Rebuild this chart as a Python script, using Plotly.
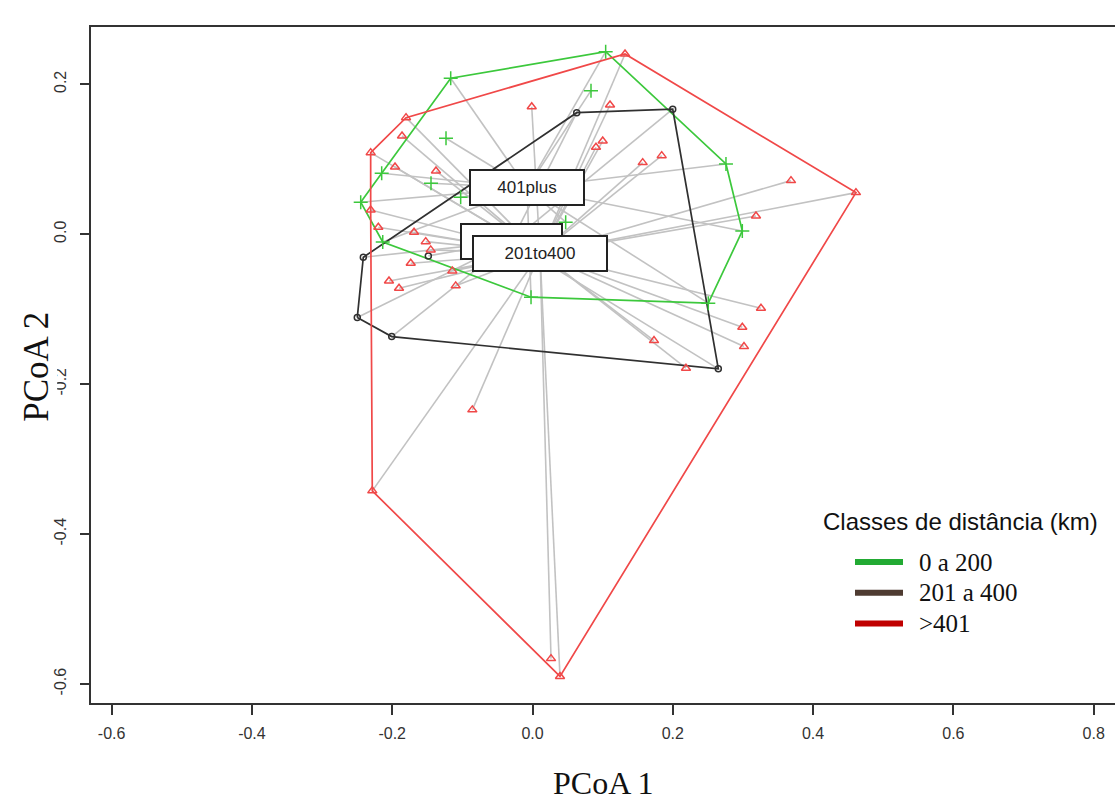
import plotly.graph_objects as go

# ---- data (PCoA scores) ----
green_x = [0.1043, -0.1166, -0.2150, -0.2449, -0.2135, -0.0021, 0.2506, 0.2991, 0.2758, 0.0834, -0.1233, -0.1447, -0.1024, 0.0473]
green_y = [0.2435, 0.2080, 0.0813, 0.0427, -0.0103, -0.0840, -0.0920, 0.0044, 0.0937, 0.1915, 0.1280, 0.0680, 0.0493, 0.0160]

black_x = [0.0630, 0.1999, 0.2649, -0.2007, -0.2498, -0.2412, -0.1485]
black_y = [0.1621, 0.1667, -0.1796, -0.1365, -0.1112, -0.0307, -0.0289]

red_x = [0.1319, 0.4611, 0.0392, -0.2284, -0.2307, -0.1803, -0.0011, 0.1105, -0.1860, 0.0905,
         0.1001, 0.1571, 0.1842, 0.3685, 0.3186, -0.1960, -0.1376, -0.2307, -0.2198, -0.1689,
         -0.1522, -0.1451, -0.1736, -0.1143, -0.2046, -0.1903, -0.1095, 0.1732, 0.2188, 0.3257,
         0.2991, 0.3015, -0.0858, 0.0264]
red_y = [0.2404, 0.0555, -0.5899, -0.3423, 0.1088, 0.1555, 0.1701, 0.1724, 0.1311, 0.1160,
         0.1244, 0.0955, 0.1048, 0.0715, 0.0244, 0.0897, 0.0844, 0.0324, 0.0093, 0.0027,
         -0.0099, -0.0209, -0.0387, -0.0489, -0.0623, -0.0720, -0.0689, -0.1419, -0.1787, -0.0987,
         -0.1240, -0.1499, -0.2343, -0.5661]

centroid_x = {"green": -0.0078, "black": -0.0299, "red": 0.0107}
centroid_y = {"green": 0.0617, "black": -0.0096, "red": -0.0256}
centroid_labels = {"green": "401plus", "black": " ", "red": "201to400"}

legend_labels = ["0 a 200", "201 a 400", ">401"]
legend_colors = ["#22AA33", "#4E3B31", "#C00000"]
legend_title = "Classes de distância (km)"

x_ticks = [-0.6, -0.4, -0.2, 0.0, 0.2, 0.4, 0.6, 0.8]
y_ticks = [0.2, 0.0, -0.2, -0.4, -0.6]

groups = [
    ("green", green_x, green_y, "#3CC83C", "cross-thin-open", 10),
    ("black", black_x, black_y, "#303030", "circle-open", 6),
    ("red", red_x, red_y, "#F04848", "triangle-up-open", 8),
]


def hull(xs, ys):
    pts = sorted(set(zip(xs, ys)))
    def cross(o, a, b):
        return (a[0]-o[0])*(b[1]-o[1]) - (a[1]-o[1])*(b[0]-o[0])
    lower, upper = [], []
    for p in pts:
        while len(lower) >= 2 and cross(lower[-2], lower[-1], p) <= 0:
            lower.pop()
        lower.append(p)
    for p in reversed(pts):
        while len(upper) >= 2 and cross(upper[-2], upper[-1], p) <= 0:
            upper.pop()
        upper.append(p)
    h = lower[:-1] + upper[:-1]
    h.append(h[0])
    return [p[0] for p in h], [p[1] for p in h]


fig = go.Figure()

# spider segments
for name, xs, ys, col, sym, sz in groups:
    sx, sy = [], []
    for x, y in zip(xs, ys):
        sx += [x, centroid_x[name], None]
        sy += [y, centroid_y[name], None]
    fig.add_trace(go.Scatter(x=sx, y=sy, mode="lines", line=dict(color="#C2C2C2", width=1.6),
                             hoverinfo="skip", showlegend=False))

# hulls
for name, xs, ys, col, sym, sz in groups:
    hx, hy = hull(xs, ys)
    fig.add_trace(go.Scatter(x=hx, y=hy, mode="lines", line=dict(color=col, width=1.7),
                             hoverinfo="skip", showlegend=False))

# points
for name, xs, ys, col, sym, sz in groups:
    fig.add_trace(go.Scatter(x=xs, y=ys, mode="markers",
                             marker=dict(symbol=sym, size=sz, color=col, line=dict(color=col, width=1.5)),
                             showlegend=False))

annotations = []
# centroid label boxes (black drawn first, hidden under red)
box_w = {"green": 110, "black": 97, "red": 130}
for name in ["black", "red", "green"]:
    annotations.append(dict(x=centroid_x[name], y=centroid_y[name], xref="x", yref="y",
                            text=centroid_labels[name], showarrow=False,
                            font=dict(family="Liberation Sans, Arial", size=17, color="#222"),
                            bgcolor="white", bordercolor="#222", borderwidth=2, borderpad=1,
                            width=box_w[name], height=31))

# axis titles
annotations.append(dict(x=0.5, y=-0.118, xref="paper", yref="paper", text="PCoA 1", showarrow=False,
                        font=dict(family="Liberation Serif, Times New Roman", size=32, color="#111"),
                        xanchor="center", yanchor="middle"))
annotations.append(dict(x=-0.054, y=0.497, xref="paper", yref="paper", text="PCoA 2", showarrow=False,
                        textangle=-90, bgcolor="white",
                        font=dict(family="Liberation Serif, Times New Roman", size=35, color="#111"),
                        xanchor="center", yanchor="middle"))

# legend
plot_l, plot_w, plot_b, plot_h = 91, 1024, 703, 676
def px_x(p):
    return (p - plot_l) / plot_w
def px_y(p):
    return (plot_b - p) / plot_h

annotations.append(dict(x=px_x(821), y=px_y(521), xref="paper", yref="paper", text=legend_title,
                        showarrow=False, xanchor="left", yanchor="middle",
                        font=dict(family="Liberation Sans, Arial", size=24, color="#111")))
shapes = []
for i, (lab, col) in enumerate(zip(legend_labels, legend_colors)):
    yy = 562 + i * 30.8
    shapes.append(dict(type="line", xref="paper", yref="paper", x0=px_x(855), x1=px_x(903),
                       y0=px_y(yy), y1=px_y(yy), line=dict(color=col, width=6)))
    annotations.append(dict(x=px_x(917), y=px_y(yy), xref="paper", yref="paper", text=lab,
                            showarrow=False, xanchor="left", yanchor="middle",
                            font=dict(family="Liberation Serif, Times New Roman", size=25, color="#111")))

fig.update_layout(
    width=1115, height=800,
    margin=dict(l=91, r=0, t=27, b=97),
    plot_bgcolor="white", paper_bgcolor="white",
    showlegend=False,
    annotations=annotations,
    shapes=shapes,
    xaxis=dict(range=[-0.6294, 0.8304], tickvals=x_ticks, ticktext=[f"{v:.1f}" for v in x_ticks],
               showgrid=False, zeroline=False, showline=True, linecolor="#333", linewidth=2,
               mirror=True, ticks="outside", ticklen=10, tickwidth=1.5, tickcolor="#333",
               ticklabelstandoff=5,
               tickfont=dict(family="Liberation Sans, Arial", size=16, color="#333")),
    yaxis=dict(range=[-0.6253, 0.2764], tickvals=y_ticks, ticktext=[f"{v:.1f}" for v in y_ticks],
               showgrid=False, zeroline=False, showline=True, linecolor="#333", linewidth=2,
               ticks="outside", ticklen=9, tickwidth=1.5, tickcolor="#333", tickangle=-90,
               ticklabelstandoff=8,
               tickfont=dict(family="Liberation Sans, Arial", size=16, color="#333")),
)

fig.write_html("out.html", config={"displayModeBar": False},
               post_script="document.body.style.margin='0px';")
